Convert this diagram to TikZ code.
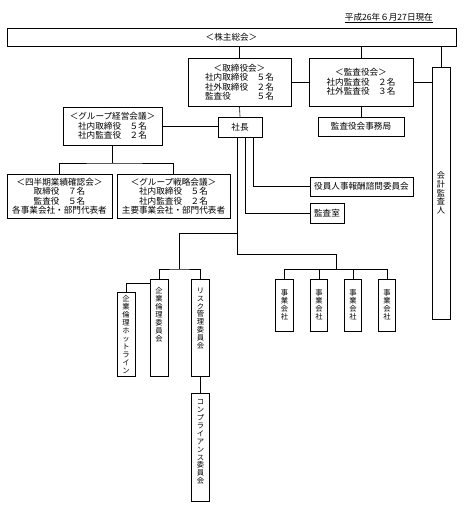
\documentclass[tikz,border=0pt]{standalone}
\usepackage{fontspec}
\setmainfont{Noto Sans CJK JP}

\newcommand{\hfont}{\fontsize{8.6}{9.5}\selectfont}
\newcommand{\vfont}{\fontsize{7.3}{7.9}\selectfont}

\tikzset{
	box/.style={draw, line width=0.9pt, align=center, inner sep=1pt, font=\hfont},
	vbox/.style={draw, line width=0.9pt, minimum width=17.5, align=center, inner sep=0pt, font=\vfont},
	vlab/.style={anchor=north, align=center, inner sep=0pt, font=\vfont, yshift=-7pt},
	conn/.style={line width=0.6pt}
}

\begin{document}
\begin{tikzpicture}[x=1pt, y=-1pt]
	\useasboundingbox (0,0) rectangle (467,510);

	% Date
	\node[font=\hfont, anchor=east, inner sep=0pt] (date) at (433,18) {\underline{平成26年６月27日現在}};

	% Top level
	\node[box, minimum width=449, minimum height=18] (kabu) at (231.5,37) {＜株主総会＞};
	\node[box, minimum width=103, minimum height=48] (tori) at (239.5,82) {＜取締役会＞\\社内取締役　５名\\社外取締役　２名\\監査役　　　５名};
	\node[box, minimum width=104, minimum height=48] (kansa) at (361,82) {＜監査役会＞\\社内監査役　２名\\社外監査役　３名};
	\node[vbox, minimum width=18, minimum height=252, font=\fontsize{8.2}{8.6}\selectfont] (kaikei) at (441,193) {会\\計\\監\\査\\人};

	% Second level
	\node[box, minimum width=44, minimum height=20] (shacho) at (240,127) {社長};
	\node[box, minimum width=86, minimum height=19] (jimu) at (361,126.5) {監査役会事務局};
	\node[box, minimum width=99, minimum height=38] (keiei) at (112.5,126) {＜グループ経営会議＞\\社内取締役　５名\\社内監査役　２名};

	% Meetings under group management
	\node[box, minimum width=105, minimum height=44] (shihanki) at (59.5,196) {＜四半期業績確認会＞\\取締役　７名\\監査役　５名\\各事業会社・部門代表者};
	\node[box, minimum width=113, minimum height=44] (senryaku) at (173.5,196) {＜グループ戦略会議＞\\社内取締役　５名\\社内監査役　２名\\主要事業会社・部門代表者};

	% Under the president
	\node[box, minimum width=103, minimum height=19] (houshu) at (361.5,186.5) {役員人事報酬諮問委員会};
	\node[box, minimum width=34, minimum height=20] (shitsu) at (327,213) {監査室};

	% Committees
	\node[vbox, minimum width=18, minimum height=97, label={[vlab, yshift=-2pt]north:企\\業\\倫\\理\\委\\員\\会}] (rinri) at (159,327.5) {};
	\node[vbox, minimum height=97, label={[vlab, yshift=-2pt]north:リ\\ス\\ク\\管\\理\\委\\員\\会}] (risk) at (200.5,327.5) {};
	\node[vbox, minimum width=18, minimum height=84, label={[vlab, yshift=3pt]north:企\\業\\倫\\理\\ホ\\ッ\\ト\\ラ\\イ\\ン}] (hotline) at (126,334) {};
	\node[vbox, minimum height=108, label={[vlab]north:コ\\ン\\プ\\ラ\\イ\\ア\\ン\\ス\\委\\員\\会}] (comp) at (200.5,447) {};

	% Operating companies
	\foreach \i/\x in {1/284.5, 2/319, 3/353, 4/387}
		\node[vbox, minimum height=52] (jigyo\i) at (\x,305) {事\\業\\会\\社};

	% Junctions
	\coordinate (k1) at (112.5,163);
	\coordinate (s1) at (237,233);
	\coordinate (s2) at (237,254);
	\coordinate (c0) at (336,269);
	\coordinate (r0) at (179,269);

	% Connectors
	\draw[conn] (kabu.south -| tori.north) -- (tori.north);
	\draw[conn] (kabu.south -| kansa.north) -- (kansa.north);
	\draw[conn] (kabu.south -| kaikei.north) -- (kaikei.north);
	\draw[conn] (tori.east) -- (kansa.west);
	\draw[conn] (kansa.east) -- (kansa.east -| kaikei.west);
	\draw[conn] (tori.south) -- (shacho.north);
	\draw[conn] (kansa.south) -- (jimu.north);
	\draw[conn] (keiei.east) -- (keiei.east -| shacho.west);

	\draw[conn] (keiei.south) -- (k1);
	\draw[conn] (shihanki.north) |- (k1) -| (senryaku.north);

	\draw[conn] ([xshift=13pt]shacho.south) |- (houshu.west);
	\draw[conn] ([xshift=5pt]shacho.south) |- (shitsu.west);
	\draw[conn] ([xshift=-3pt]shacho.south) |- (s2) -| (c0);
	\draw[conn] (jigyo1.north) |- (jigyo4.north |- c0) -- (jigyo4.north);
	\foreach \i in {2,3}
		\draw[conn] (jigyo\i.north) -- (jigyo\i.north |- c0);

	\draw[conn] (s1) -| (r0);
	\draw[conn] (rinri.north) |- (r0) -| (risk.north);
	\draw[conn] ([yshift=-5pt]rinri.north west) -| (hotline.north);
	\draw[conn] (risk.south) -- (comp.north);
\end{tikzpicture}
\end{document}
